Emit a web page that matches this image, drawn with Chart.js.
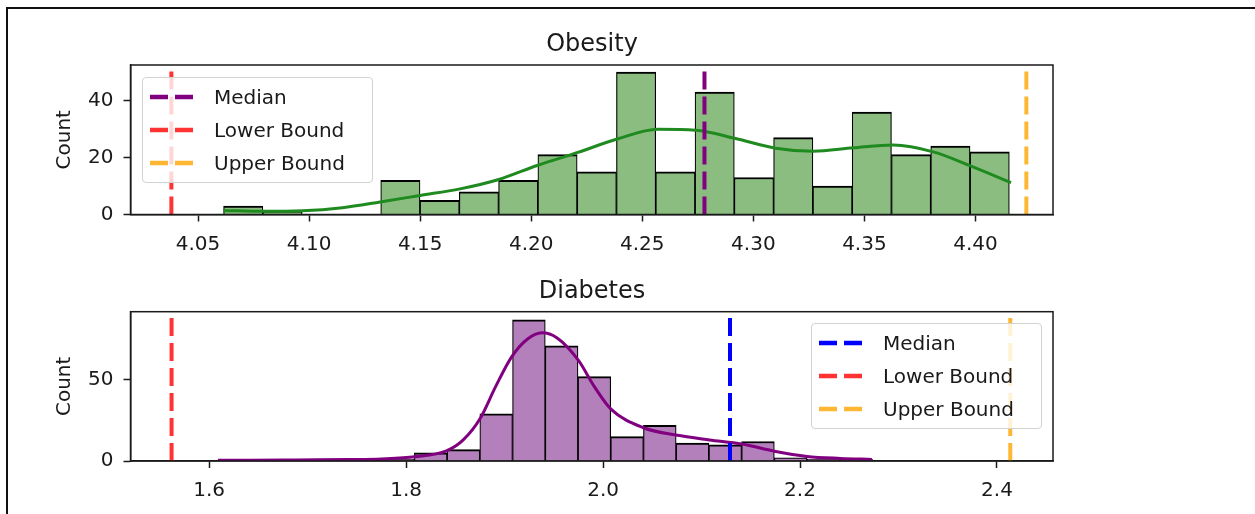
<!DOCTYPE html>
<html>
<head>
<meta charset="utf-8">
<script src="https://cdn.jsdelivr.net/npm/chart.js@4.4.0/dist/chart.umd.min.js"></script>
<style>
  html, body { margin: 0; padding: 0; background: #fff; }
  body { width: 1255px; height: 514px; position: relative; overflow: hidden; font-family: "DejaVu Sans", sans-serif; }
  .frame { position: absolute; left: 6px; top: 7px; right: -10px; bottom: -10px;
           border-top: 2px solid #111; border-left: 2px solid #111; }
  canvas { position: absolute; left: 0; }
  .legend { position: absolute; width: 231px; height: 106px; box-sizing: border-box;
            border: 1px solid #d2d2d2; border-radius: 4px; background: rgba(255,255,255,0.8); }
  .legend .row { position: absolute; left: 0; width: 100%; height: 24px; }
  .legend svg { position: absolute; left: 7px; top: 0; }
  .legend span { position: absolute; left: 71px; top: 0; line-height: 24px; font-size: 20px; color: #1a1a1a; white-space: nowrap; }
</style>
</head>
<body>
<div class="frame"></div>
<canvas id="obesity" width="1184" height="256" style="top:14px;width:1184px;height:256px"></canvas>
<canvas id="diabetes" width="1184" height="252" style="top:262px;width:1184px;height:252px"></canvas>
<div class="legend" id="legTop" style="left:142px;top:77px"></div>
<div class="legend" id="legBottom" style="left:811px;top:323px"></div>
<script>
/* ---------- data ---------- */
// Obesity
const obesityCounts   = [3, 1, 0, 0, 12, 5, 8, 12, 21, 15, 50, 15, 43, 13, 27, 10, 36, 21, 24, 22];
const obesityBinStart = 4.0615;
const obesityBinWidth = 0.017687;
const obesityKdeX = [4.0615, 4.079, 4.097, 4.115, 4.132, 4.150, 4.168, 4.185, 4.203, 4.221, 4.239,
                     4.257, 4.274, 4.292, 4.310, 4.327, 4.345, 4.363, 4.381, 4.398, 4.416];
const obesityKdeY = [1.4, 1.1, 1.3, 2.4, 4.4, 6.7, 9.0, 12.2, 17.3, 21.8, 26.6,
                     29.9, 29.6, 26.7, 23.3, 22.2, 23.4, 24.4, 22.0, 17.0, 11.2];
const obesityTicks      = [4.05, 4.10, 4.15, 4.20, 4.25, 4.30, 4.35, 4.40];
const obesityCountTicks = [0, 20, 40];
const obesityMedian = 4.278, obesityLower = 4.038, obesityUpper = 4.4229;
const obesityXRange = [4.0196, 4.4349];
const obesityYMax   = 52.5;

// Diabetes
const diabetesCounts   = [1, 0, 1, 0, 0, 1, 5, 7, 29, 87, 71, 52, 15, 22, 11, 10, 12, 2, 1, 1];
const diabetesBinStart = 1.609;
const diabetesBinWidth = 0.03323;
const diabetesKdeX = [1.609, 1.642, 1.676, 1.709, 1.742, 1.775, 1.809, 1.841, 1.858, 1.875, 1.891, 1.907, 1.923,
                      1.938, 1.953, 1.975, 1.991, 2.008, 2.041, 2.074, 2.108, 2.141, 2.174, 2.207, 2.241, 2.273];
const diabetesKdeY = [0.4, 0.5, 0.6, 0.7, 0.9, 1.3, 2.6, 6.2, 13, 26, 46, 64, 75,
                      79, 76, 62, 46, 32, 20.5, 16, 13, 10.5, 6, 2.8, 1.6, 1.0];
const diabetesTicks      = [1.6, 1.8, 2.0, 2.2, 2.4];
const diabetesCountTicks = [0, 50];
const diabetesMedian = 2.1289, diabetesLower = 1.5618, diabetesUpper = 2.4135;
const diabetesXRange = [1.5201, 2.4569];
const diabetesYMax   = 92;

const legendLabels = ['Median', 'Lower Bound', 'Upper Bound'];

/* ---------- chart setup ---------- */
Chart.defaults.font.family = '"DejaVu Sans", sans-serif';
Chart.defaults.color = '#1a1a1a';
const DASH = [18, 7];

const frameBox = {
  id: 'frameBox',
  afterDraw(chart) {
    const a = chart.chartArea, c = chart.ctx;
    c.save();
    c.strokeStyle = '#1a1a1a';
    c.lineWidth = 1.5;
    c.strokeRect(a.left, a.top, a.right - a.left, a.bottom - a.top);
    c.restore();
  }
};

function vline(x, ymax, color) {
  return {
    type: 'line', order: 0,
    data: [{x: x, y: 0}, {x: x, y: ymax}],
    borderColor: color, borderWidth: 4, borderDash: DASH,
    pointRadius: 0, fill: false
  };
}

function makeHist(id, cfg) {
  const bars = cfg.counts.map((c, i) => ({x: cfg.binStart + (i + 0.5) * cfg.binWidth, y: c === 0 ? null : c}));
  const kde = cfg.kdeX.map((x, i) => ({x: x, y: cfg.kdeY[i]}));
  return new Chart(document.getElementById(id), {
    type: 'bar',
    data: {
      datasets: [
        { type: 'bar', order: 3, data: bars,
          backgroundColor: cfg.barColor, borderColor: '#000',
          borderWidth: {top: 2, left: 1.2, right: 1.2, bottom: 0},
          barPercentage: 1, categoryPercentage: 1 },
        { type: 'line', order: 2, data: kde, borderColor: cfg.kdeColor, borderWidth: 3,
          pointRadius: 0, cubicInterpolationMode: 'monotone', fill: false },
        vline(cfg.median, cfg.yMax, cfg.medianColor),
        vline(cfg.lower, cfg.yMax, 'rgba(255,0,0,0.8)'),
        vline(cfg.upper, cfg.yMax, 'rgba(255,165,0,0.8)')
      ]
    },
    options: {
      responsive: false, animation: false, events: [],
      layout: { padding: 0 },
      plugins: {
        legend: { display: false }, tooltip: { enabled: false },
        title: { display: true, text: cfg.title, color: '#1a1a1a',
                 font: {size: 24, weight: 'normal'}, padding: cfg.titlePad }
      },
      scales: {
        x: {
          type: 'linear', offset: false, min: cfg.xRange[0], max: cfg.xRange[1],
          afterBuildTicks: s => { s.ticks = cfg.xTicks.map(v => ({value: v})); },
          afterFit: s => { s.height = cfg.xAxisHeight; },
          ticks: { font: {size: 20}, color: '#1a1a1a', padding: 11, maxRotation: 0, autoSkip: false,
                   callback: v => v.toFixed(cfg.decimals) },
          grid: { offset: false, drawOnChartArea: false, tickLength: 7, tickWidth: 1.5, tickColor: '#1a1a1a' },
          border: { display: true, color: '#1a1a1a', width: 1.5 }
        },
        y: {
          type: 'linear', min: 0, max: cfg.yMax,
          afterBuildTicks: s => { s.ticks = cfg.yTicks.map(v => ({value: v})); },
          afterFit: s => { s.width = 130.5; },
          ticks: { font: {size: 20}, color: '#1a1a1a', padding: 10, callback: v => String(v) },
          grid: { drawOnChartArea: false, tickLength: 7, tickWidth: 1.5, tickColor: '#1a1a1a' },
          border: { display: true, color: '#1a1a1a', width: 1.5 },
          title: { display: true, text: 'Count', font: {size: 20}, color: '#1a1a1a', padding: {top: 53, bottom: 0} }
        },
        // empty right axis so the title centres over the plot area
        yr: {
          position: 'right', display: true,
          afterFit: s => { s.width = 131; },
          ticks: { display: false }, grid: { display: false }, border: { display: false }
        }
      }
    },
    plugins: [frameBox]
  });
}

makeHist('obesity', {
  title: 'Obesity', counts: obesityCounts, binStart: obesityBinStart, binWidth: obesityBinWidth,
  kdeX: obesityKdeX, kdeY: obesityKdeY, xTicks: obesityTicks, yTicks: obesityCountTicks,
  median: obesityMedian, lower: obesityLower, upper: obesityUpper,
  xRange: obesityXRange, yMax: obesityYMax, decimals: 2,
  barColor: '#8bbd80', kdeColor: '#1f8a1f', medianColor: '#800080',
  titlePad: {top: 16.6, bottom: 5.6}, xAxisHeight: 55.5
});

makeHist('diabetes', {
  title: 'Diabetes', counts: diabetesCounts, binStart: diabetesBinStart, binWidth: diabetesBinWidth,
  kdeX: diabetesKdeX, kdeY: diabetesKdeY, xTicks: diabetesTicks, yTicks: diabetesCountTicks,
  median: diabetesMedian, lower: diabetesLower, upper: diabetesUpper,
  xRange: diabetesXRange, yMax: diabetesYMax, decimals: 1,
  barColor: '#b480bb', kdeColor: '#800080', medianColor: '#0000ff',
  titlePad: {top: 15, bottom: 5.9}, xAxisHeight: 53
});

/* ---------- legends (boxed, inside the plot like matplotlib) ---------- */
function fillLegend(id, colors) {
  const box = document.getElementById(id);
  legendLabels.forEach((label, i) => {
    const row = document.createElement('div');
    row.className = 'row';
    row.style.top = (7 + i * 33) + 'px';
    row.innerHTML =
      '<svg width="44" height="24"><line x1="0" y1="12" x2="44" y2="12" stroke="' + colors[i] +
      '" stroke-width="4.5" stroke-dasharray="' + DASH.join(' ') + '"/></svg><span>' + label + '</span>';
    box.appendChild(row);
  });
}
fillLegend('legTop', ['#800080', 'rgba(255,0,0,0.8)', 'rgba(255,165,0,0.8)']);
fillLegend('legBottom', ['#0000ff', 'rgba(255,0,0,0.8)', 'rgba(255,165,0,0.8)']);
</script>
</body>
</html>
